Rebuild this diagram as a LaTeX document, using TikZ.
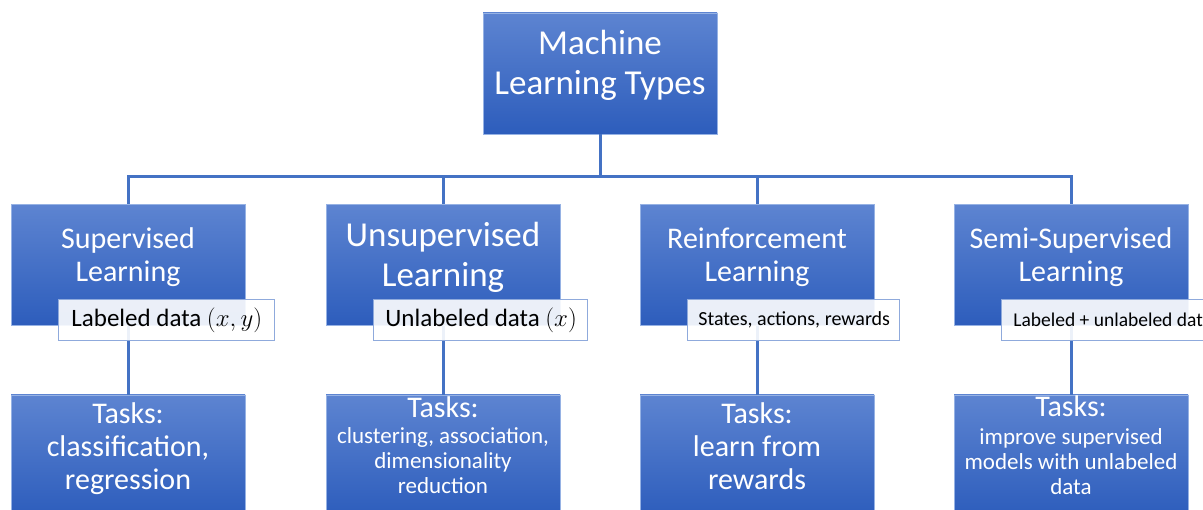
\documentclass[tikz,border=0pt]{standalone}
\usepackage{fontspec}
\setmainfont{Carlito}

\definecolor{boxtop}{RGB}{93,132,209}
\definecolor{boxbot}{RGB}{45,93,188}
\definecolor{boxedge}{RGB}{150,178,228}
\definecolor{linkblue}{RGB}{68,114,196}
\definecolor{tagedge}{RGB}{143,170,220}

% invisible strut that adds depth below the last line of a box
\newcommand{\dn}[1]{\rule[-#1pt]{0pt}{#1pt}}
% left-aligned tag text that may run past the tag's right edge
\newcommand{\tagtext}[1]{\makebox[190pt][l]{#1}}

\tikzset{
  mlbox/.style={rectangle, top color=boxtop, bottom color=boxbot,
    draw=boxedge, line width=0.6pt, minimum width=234pt, minimum height=121pt,
    inner sep=0pt, align=center, text=white},
  bigtext/.style={font=\fontsize{30}{33}\selectfont},
  hugetext/.style={font=\fontsize{35}{40}\selectfont},
  smalltext/.style={font=\fontsize{23}{25}\selectfont},
  tag/.style={rectangle, fill=white, fill opacity=0.9, text opacity=1,
    draw=tagedge, line width=0.8pt, anchor=north west, minimum height=41pt,
    minimum width=212pt, inner xsep=11pt, inner ysep=0pt, text=black},
  link/.style={draw=linkblue, line width=3pt}
}

\begin{document}
\begin{tikzpicture}[x=1pt,y=-1pt]
\useasboundingbox (0,0) rectangle (1203,510);
\clip (0,0) rectangle (1203,510);

% root
\node[mlbox, hugetext] (root) at (600,73.5)
  {Machine\\Learning Types\dn{23}};

% learning paradigms
\node[mlbox, bigtext]  (sup)  at (128,265)  {Supervised\\Learning\dn{21}};
\node[mlbox, hugetext] (uns)  at (443,265)  {Unsupervised\\Learning\dn{22}};
\node[mlbox, bigtext]  (rei)  at (757,265)  {Reinforcement\\Learning\dn{21}};
\node[mlbox, bigtext]  (semi) at (1071,265) {Semi-Supervised\\Learning\dn{21}};

% task boxes
\node[mlbox, bigtext] (supT) at (128,455.5)
  {Tasks:\\classification,\\regression\dn{18}};
\node[mlbox, smalltext] (unsT) at (443,455.5)
  {{\fontsize{30}{30}\selectfont Tasks:}\\[1pt]clustering, association,\\dimensionality\\reduction\dn{20}};
\node[mlbox, bigtext] (reiT) at (757,455.5)
  {Tasks:\\learn from\\rewards\dn{18}};
\node[mlbox, smalltext] (semiT) at (1071,455.5)
  {{\fontsize{30}{30}\selectfont Tasks:}\\[3pt]improve supervised\\models with unlabeled\\data\dn{20}};

% connectors
\coordinate (bus) at (600,177);
\draw[link] (root.south) -- (bus);
\foreach \c in {sup,uns,rei,semi}
  \draw[link] (bus) -| (\c.north);
\draw[link] (sup.south)  -- (supT.north);
\draw[link] (uns.south)  -- (unsT.north);
\draw[link] (rei.south)  -- (reiT.north);
\draw[link] (semi.south) -- (semiT.north);

% data tags
\node[tag, font=\fontsize{25}{28}\selectfont, inner xsep=13pt] (supL) at (58,299)
  {\tagtext{Labeled data $(x, y)$}};
\node[tag, font=\fontsize{25}{28}\selectfont, inner xsep=12pt] (unsL) at (373,299)
  {\tagtext{Unlabeled data $(x)$}};
\node[tag, font=\fontsize{20}{24}\selectfont, inner xsep=10pt] (reiL) at (687,299)
  {\tagtext{States, actions, rewards}};
\node[tag, font=\fontsize{19.5}{24}\selectfont, inner xsep=12pt] (semiL) at (1001,299)
  {\tagtext{Labeled + unlabeled data}};
\end{tikzpicture}
\end{document}
